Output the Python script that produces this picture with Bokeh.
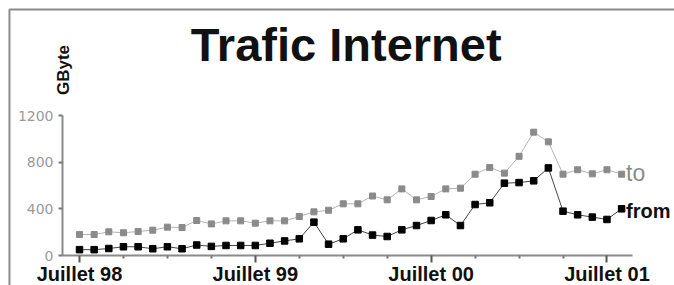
from bokeh.plotting import figure
from bokeh.models import Range1d, FixedTicker, Label
from bokeh.embed import file_html
from bokeh.resources import INLINE

# ---- data (GByte per month, July 1998 .. August 2001) ----
months = [f"{1998 + (6 + i) // 12}-{(6 + i) % 12 + 1:02d}" for i in range(38)]
traffic_to = [180, 180, 203, 195, 206, 217, 243, 240, 300, 271,
              297, 297, 277, 297, 297, 334, 374, 388, 443, 443,
              510, 477, 571, 477, 506, 571, 577, 697, 754, 706,
              850, 1057, 974, 697, 735, 700, 735, 697]
traffic_from = [50, 50, 60, 75, 75, 58, 75, 58, 90, 78,
                86, 86, 86, 105, 125, 143, 286, 97, 143, 220,
                175, 163, 220, 257, 300, 349, 257, 437, 452, 620,
                625, 640, 751, 380, 349, 329, 309, 400]
y_ticks = [0, 400, 800, 1200]
x_tick_idx = [0, 12, 24, 36]
x_tick_labels = ["Juillet 98", "Juillet 99", "Juillet 00", "Juillet 01"]
x_minor_idx = [3, 6, 9, 15, 18, 21, 27, 30, 33]

x = list(range(len(months)))

# layout geometry (data units)
X_AXIS_START, X_AXIS_END = -1.16, 37.75
Y_AXIS_START, Y_AXIS_END = 0, 1200
X_VIEW = (-5.392, 40.61)
Y_VIEW = (-257.1, 2185.7)
FRAME_X, FRAME_Y = -4.78, 2108.6   # page border (top / left)

p = figure(width=674, height=285, output_backend="svg", toolbar_location=None,
           x_range=Range1d(*X_VIEW), y_range=Range1d(*Y_VIEW),
           min_border=0)
p.outline_line_color = None
p.grid.visible = False
p.background_fill_color = "white"
p.border_fill_color = "white"

# page border, top and left
p.line([FRAME_X, FRAME_X, X_VIEW[1] + 5], [Y_VIEW[0] - 100, FRAME_Y, FRAME_Y],
       line_color="#8c8c8c", line_width=2)

# series
p.line(x, traffic_to, line_color="#b4b4b4", line_width=1)
p.scatter(x, traffic_to, marker="square", size=6, fill_color="#8a8a8a", line_color="#8a8a8a")
p.line(x, traffic_from, line_color="#444444", line_width=1)
p.scatter(x, traffic_from, marker="square", size=6.5, fill_color="black", line_color="black")

# x axis
xa = p.xaxis[0]
xa.fixed_location = Y_AXIS_START
xa.bounds = (X_AXIS_START, X_AXIS_END)
xa.ticker = FixedTicker(ticks=x_tick_idx, minor_ticks=x_minor_idx)
xa.major_label_overrides = {i: l for i, l in zip(x_tick_idx, x_tick_labels)}
xa.axis_line_color = "#8a8a8a"
xa.axis_line_width = 2
xa.major_tick_line_color = "#555555"
xa.major_tick_line_width = 2
xa.major_tick_out = 7
xa.major_tick_in = 0
xa.minor_tick_line_color = "#777777"
xa.minor_tick_line_width = 2
xa.minor_tick_out = 3
xa.minor_tick_in = 0
xa.major_label_standoff = 0
xa.major_label_text_font = "Liberation Sans"
xa.major_label_text_font_style = "bold"
xa.major_label_text_font_size = "20px"
xa.major_label_text_color = "#111111"

# y axis
ya = p.yaxis[0]
ya.fixed_location = X_AXIS_START
ya.bounds = (Y_AXIS_START, Y_AXIS_END)
ya.ticker = FixedTicker(ticks=y_ticks, minor_ticks=[])
ya.axis_line_color = "#8a8a8a"
ya.axis_line_width = 2
ya.major_tick_line_color = "#777777"
ya.major_tick_line_width = 2
ya.major_tick_out = 4
ya.major_tick_in = 0
ya.minor_tick_line_color = None
ya.major_label_standoff = 5
ya.major_label_text_font = "DejaVu Sans"
ya.major_label_text_font_size = "14px"
ya.major_label_text_color = "#9a9a9a"

# texts
p.add_layout(Label(x=18.2, y=1808, text="Trafic Internet", text_align="center",
                   text_baseline="middle", text_font="Liberation Sans",
                   text_font_style="bold", text_font_size="47px", text_color="#111111"))
p.add_layout(Label(x=-1.09, y=1590, text="GByte", angle=1.5708, text_align="center",
                   text_baseline="middle", text_font="Liberation Sans",
                   text_font_style="bold", text_font_size="17px", text_color="#111111"))
p.add_layout(Label(x=37.3, y=703, text="to", text_align="left", text_baseline="middle",
                   text_font="Liberation Sans", text_font_size="23px", text_color="#8a8a8a"))
p.add_layout(Label(x=37.3, y=385, text="from", text_align="left", text_baseline="middle",
                   text_font="Liberation Sans", text_font_style="bold",
                   text_font_size="20px", text_color="#111111"))

open("out.html", "w").write(file_html(p, INLINE))
